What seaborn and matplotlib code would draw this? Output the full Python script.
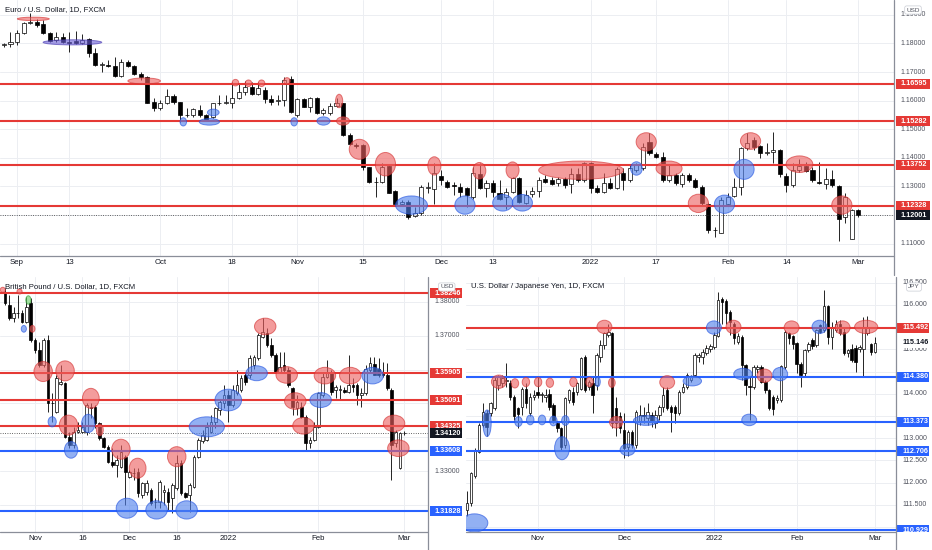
import numpy as np
import pandas as pd
import matplotlib
matplotlib.use("Agg")
import matplotlib.pyplot as plt
from matplotlib.patches import Ellipse, Rectangle
from matplotlib.lines import Line2D
import seaborn as sns

# ---------------- EUR/USD daily (from 2021-08-30) ----------------
eur_open = [
 1.1793, 1.1797, 1.1806, 1.1835, 1.1870, 1.1876, 1.1868, 1.1835, 1.1812, 1.1821,
 1.1806, 1.1810, 1.1800, 1.1814, 1.1765, 1.1725, 1.1725, 1.1721, 1.1686, 1.1735,
 1.1723, 1.1693, 1.1682, 1.1594, 1.1573, 1.1591, 1.1616, 1.1594, 1.1550, 1.1550,
 1.1567, 1.1550, 1.1544, 1.1591, 1.1593, 1.1591, 1.1608, 1.1631, 1.1647, 1.1622,
 1.1637, 1.1607, 1.1600, 1.1602, 1.1675, 1.1550, 1.1605, 1.1579, 1.1610, 1.1556,
 1.1556, 1.1581, 1.1591, 1.1480, 1.1445, 1.1445, 1.1367, 1.1317, 1.1317, 1.1371,
 1.1285, 1.1238, 1.1247, 1.1196, 1.1206, 1.1293, 1.1290, 1.1336, 1.1317, 1.1305,
 1.1299, 1.1293, 1.1264, 1.1342, 1.1293, 1.1311, 1.1278, 1.1264, 1.1282, 1.1328,
 1.1241, 1.1273, 1.1284, 1.1325, 1.1322, 1.1311, 1.1325, 1.1307, 1.1343, 1.1322,
 1.1381, 1.1293, 1.1282, 1.1311, 1.1293, 1.1348, 1.1322, 1.1357, 1.1363, 1.1456,
 1.1412, 1.1404, 1.1322, 1.1340, 1.1307, 1.1340, 1.1322, 1.1299, 1.1238, 1.1147,
 1.1139, 1.1238, 1.1266, 1.1299, 1.1433, 1.1462, 1.1441, 1.1418, 1.1421, 1.1427,
 1.1336, 1.1305, 1.1357, 1.1371, 1.1357, 1.1317, 1.1308, 1.1325, 1.1301, 1.1192,
 1.1118, 1.1217]
eur_high = [
 1.1803, 1.1841, 1.1847, 1.1876, 1.1905, 1.1884, 1.1882, 1.1839, 1.1839, 1.1835,
 1.1841, 1.1844, 1.1832, 1.1818, 1.1783, 1.1736, 1.1742, 1.1754, 1.1744, 1.1742,
 1.1725, 1.1701, 1.1686, 1.1608, 1.1602, 1.1640, 1.1622, 1.1596, 1.1573, 1.1575,
 1.1585, 1.1552, 1.1593, 1.1620, 1.1620, 1.1666, 1.1661, 1.1669, 1.1666, 1.1666,
 1.1647, 1.1620, 1.1620, 1.1684, 1.1686, 1.1608, 1.1608, 1.1614, 1.1614, 1.1573,
 1.1591, 1.1608, 1.1593, 1.1486, 1.1451, 1.1448, 1.1369, 1.1334, 1.1381, 1.1375,
 1.1287, 1.1252, 1.1252, 1.1229, 1.1305, 1.1317, 1.1381, 1.1357, 1.1322, 1.1317,
 1.1311, 1.1299, 1.1369, 1.1381, 1.1322, 1.1322, 1.1322, 1.1293, 1.1334, 1.1334,
 1.1287, 1.1299, 1.1334, 1.1340, 1.1334, 1.1334, 1.1334, 1.1363, 1.1363, 1.1387,
 1.1387, 1.1305, 1.1346, 1.1328, 1.1369, 1.1363, 1.1375, 1.1381, 1.1451, 1.1486,
 1.1421, 1.1421, 1.1375, 1.1346, 1.1346, 1.1346, 1.1328, 1.1305, 1.1243, 1.1159,
 1.1264, 1.1276, 1.1328, 1.1439, 1.1486, 1.1474, 1.1445, 1.1451, 1.1492, 1.1430,
 1.1346, 1.1381, 1.1395, 1.1387, 1.1369, 1.1387, 1.1363, 1.1357, 1.1305, 1.1276,
 1.1223, 1.1220]
eur_low = [
 1.1786, 1.1789, 1.1795, 1.1832, 1.1868, 1.1859, 1.1832, 1.1806, 1.1806, 1.1803,
 1.1771, 1.1797, 1.1797, 1.1754, 1.1722, 1.1701, 1.1719, 1.1684, 1.1684, 1.1719,
 1.1690, 1.1672, 1.1591, 1.1564, 1.1567, 1.1588, 1.1588, 1.1526, 1.1544, 1.1544,
 1.1544, 1.1530, 1.1538, 1.1585, 1.1588, 1.1573, 1.1605, 1.1620, 1.1620, 1.1620,
 1.1593, 1.1585, 1.1585, 1.1581, 1.1558, 1.1544, 1.1577, 1.1561, 1.1553, 1.1550,
 1.1550, 1.1579, 1.1476, 1.1445, 1.1433, 1.1357, 1.1313, 1.1264, 1.1313, 1.1276,
 1.1235, 1.1235, 1.1188, 1.1194, 1.1200, 1.1276, 1.1238, 1.1305, 1.1293, 1.1270,
 1.1264, 1.1229, 1.1258, 1.1290, 1.1264, 1.1264, 1.1252, 1.1223, 1.1276, 1.1241,
 1.1238, 1.1264, 1.1264, 1.1313, 1.1305, 1.1301, 1.1293, 1.1276, 1.1317, 1.1317,
 1.1278, 1.1276, 1.1278, 1.1290, 1.1290, 1.1287, 1.1317, 1.1352, 1.1357, 1.1410,
 1.1398, 1.1317, 1.1317, 1.1305, 1.1299, 1.1317, 1.1293, 1.1235, 1.1136, 1.1122,
 1.1136, 1.1235, 1.1264, 1.1270, 1.1427, 1.1427, 1.1398, 1.1410, 1.1381, 1.1334,
 1.1282, 1.1299, 1.1352, 1.1352, 1.1317, 1.1308, 1.1290, 1.1299, 1.1110, 1.1171,
 1.1115, 1.1192]
eur_close = [
 1.1797, 1.1806, 1.1835, 1.1873, 1.1876, 1.1865, 1.1835, 1.1810, 1.1821, 1.1806,
 1.1800, 1.1800, 1.1812, 1.1765, 1.1725, 1.1727, 1.1723, 1.1686, 1.1736, 1.1721,
 1.1693, 1.1682, 1.1593, 1.1573, 1.1593, 1.1616, 1.1594, 1.1550, 1.1551, 1.1570,
 1.1550, 1.1532, 1.1591, 1.1593, 1.1594, 1.1608, 1.1631, 1.1647, 1.1622, 1.1643,
 1.1605, 1.1596, 1.1602, 1.1672, 1.1561, 1.1605, 1.1579, 1.1608, 1.1556, 1.1567,
 1.1581, 1.1591, 1.1480, 1.1448, 1.1442, 1.1369, 1.1317, 1.1315, 1.1369, 1.1278,
 1.1238, 1.1247, 1.1194, 1.1206, 1.1299, 1.1299, 1.1346, 1.1322, 1.1299, 1.1303,
 1.1282, 1.1270, 1.1346, 1.1293, 1.1313, 1.1282, 1.1258, 1.1282, 1.1328, 1.1247,
 1.1270, 1.1285, 1.1322, 1.1317, 1.1308, 1.1325, 1.1305, 1.1343, 1.1322, 1.1381,
 1.1293, 1.1282, 1.1313, 1.1293, 1.1360, 1.1322, 1.1363, 1.1375, 1.1439, 1.1416,
 1.1404, 1.1322, 1.1340, 1.1311, 1.1340, 1.1322, 1.1299, 1.1241, 1.1147, 1.1149,
 1.1252, 1.1264, 1.1299, 1.1433, 1.1451, 1.1439, 1.1416, 1.1420, 1.1427, 1.1343,
 1.1305, 1.1357, 1.1371, 1.1355, 1.1322, 1.1311, 1.1325, 1.1305, 1.1188, 1.1264,
 1.1217, 1.1200]
eur_start = "2021-08-30"
eur_levels = [1.16595, 1.15282, 1.13752, 1.12328]
eur_level_kind = ["r", "r", "r", "r"]
eur_last = 1.12001
eur_yticks = [1.11, 1.12, 1.13, 1.14, 1.15, 1.16, 1.17, 1.18, 1.19]
eur_xdates = ["2021-09-01", "2021-09-13", "2021-10-01", "2021-10-18", "2021-11-01", "2021-11-15",
              "2021-12-01", "2021-12-13", "2022-01-03", "2022-01-17", "2022-02-01", "2022-02-14", "2022-03-01"]
eur_xlabels = ["Sep", "13", "Oct", "18", "Nov", "15", "Dec", "13", "2022", "17", "Feb", "14", "Mar"]
# touch zones: (kind, bar position, price, width in bars, height in price)
eur_zones = [
 ("r", 4.5, 1.1886, 4.9, 0.0012), ("p", 10.5, 1.1804, 9.0, 0.0018), ("r", 21.5, 1.1669, 5.0, 0.0021),
 ("r", 35.5, 1.1663, 1.0, 0.0023), ("r", 37.5, 1.1661, 1.0, 0.0023), ("r", 39.5, 1.1661, 1.0, 0.0023),
 ("r", 43.4, 1.1669, 1.0, 0.0023), ("r", 51.4, 1.1599, 1.1, 0.0047), ("r", 52.0, 1.1529, 2.0, 0.0029),
 ("r", 54.5, 1.1430, 3.1, 0.0070), ("r", 58.5, 1.1378, 3.1, 0.0082), ("r", 66.0, 1.1372, 2.0, 0.0064),
 ("b", 27.5, 1.1526, 1.0, 0.0029), ("b", 31.5, 1.1526, 3.1, 0.0023), ("b", 32.1, 1.1559, 1.8, 0.0023),
 ("b", 44.5, 1.1526, 1.0, 0.0029), ("b", 49.0, 1.1529, 2.0, 0.0029), ("b", 62.5, 1.1235, 4.9, 0.0064),
 ("b", 70.7, 1.1235, 3.1, 0.0064), ("r", 72.9, 1.1355, 2.0, 0.0058), ("b", 76.5, 1.1243, 3.1, 0.0058),
 ("r", 78.0, 1.1357, 2.0, 0.0058), ("b", 79.5, 1.1243, 3.1, 0.0058), ("r", 88.5, 1.1357, 13.0, 0.0064),
 ("b", 97.0, 1.1363, 1.8, 0.0047), ("r", 98.5, 1.1456, 3.1, 0.0064), ("r", 102.0, 1.1363, 4.0, 0.0052),
 ("r", 106.5, 1.1241, 3.1, 0.0064), ("b", 110.5, 1.1238, 3.1, 0.0064), ("b", 113.5, 1.1360, 3.1, 0.0070),
 ("r", 114.5, 1.1459, 3.1, 0.0058), ("r", 122.0, 1.1378, 4.1, 0.0058), ("r", 128.5, 1.1235, 3.1, 0.0064)]

# ---------------- GBP/USD daily (from 2021-10-21) ----------------
gbp_open = [
 1.3825, 1.3790, 1.3751, 1.3766, 1.3766, 1.3741, 1.3795,
 1.3687, 1.3658, 1.3613, 1.3687, 1.3500, 1.3476, 1.3556, 1.3559, 1.3402, 1.3378,
 1.3417, 1.3417, 1.3417, 1.3490, 1.3490, 1.3441, 1.3397, 1.3373, 1.3328, 1.3318,
 1.3314, 1.3343, 1.3284, 1.3294, 1.3299, 1.3230, 1.3240, 1.3245, 1.3210, 1.3210,
 1.3240, 1.3240, 1.3220, 1.3250, 1.3323, 1.3235, 1.3230, 1.3255, 1.3343, 1.3388,
 1.3392, 1.3417, 1.3446, 1.3481, 1.3500, 1.3525, 1.3495, 1.3530, 1.3540, 1.3584,
 1.3584, 1.3613, 1.3633, 1.3697, 1.3707, 1.3672, 1.3643, 1.3594, 1.3613, 1.3598,
 1.3545, 1.3486, 1.3490, 1.3461, 1.3383, 1.3392, 1.3431, 1.3525, 1.3579, 1.3594,
 1.3540, 1.3540, 1.3540, 1.3535, 1.3554, 1.3554, 1.3525, 1.3530, 1.3598, 1.3615,
 1.3601, 1.3594, 1.3584, 1.3540, 1.3383, 1.3309, 1.3412]
gbp_high = [
 1.3839, 1.3820, 1.3785, 1.3820, 1.3776, 1.3815, 1.3810,
 1.3692, 1.3682, 1.3692, 1.3702, 1.3530, 1.3584, 1.3613, 1.3564, 1.3417, 1.3431,
 1.3446, 1.3446, 1.3500, 1.3500, 1.3495, 1.3446, 1.3402, 1.3378, 1.3368, 1.3348,
 1.3378, 1.3348, 1.3304, 1.3309, 1.3309, 1.3269, 1.3274, 1.3250, 1.3220, 1.3274,
 1.3259, 1.3250, 1.3264, 1.3348, 1.3333, 1.3240, 1.3264, 1.3348, 1.3397, 1.3422,
 1.3446, 1.3466, 1.3490, 1.3510, 1.3554, 1.3540, 1.3554, 1.3598, 1.3584, 1.3594,
 1.3643, 1.3643, 1.3707, 1.3751, 1.3721, 1.3692, 1.3648, 1.3653, 1.3653, 1.3608,
 1.3549, 1.3525, 1.3505, 1.3466, 1.3402, 1.3446, 1.3535, 1.3589, 1.3628, 1.3598,
 1.3554, 1.3554, 1.3549, 1.3643, 1.3574, 1.3559, 1.3545, 1.3613, 1.3638, 1.3638,
 1.3633, 1.3623, 1.3618, 1.3545, 1.3422, 1.3417, 1.3420]
gbp_low = [
 1.3790, 1.3746, 1.3741, 1.3751, 1.3736, 1.3738, 1.3682,
 1.3648, 1.3608, 1.3608, 1.3476, 1.3446, 1.3471, 1.3554, 1.3397, 1.3368, 1.3368,
 1.3412, 1.3412, 1.3407, 1.3456, 1.3427, 1.3392, 1.3368, 1.3323, 1.3314, 1.3284,
 1.3309, 1.3200, 1.3279, 1.3274, 1.3225, 1.3220, 1.3230, 1.3200, 1.3191, 1.3191,
 1.3200, 1.3186, 1.3176, 1.3245, 1.3230, 1.3220, 1.3181, 1.3250, 1.3338, 1.3383,
 1.3388, 1.3412, 1.3427, 1.3466, 1.3486, 1.3446, 1.3490, 1.3525, 1.3535, 1.3554,
 1.3574, 1.3603, 1.3628, 1.3692, 1.3667, 1.3638, 1.3589, 1.3589, 1.3594, 1.3549,
 1.3466, 1.3466, 1.3456, 1.3363, 1.3368, 1.3388, 1.3427, 1.3520, 1.3574, 1.3525,
 1.3515, 1.3510, 1.3530, 1.3530, 1.3535, 1.3495, 1.3490, 1.3525, 1.3594, 1.3584,
 1.3579, 1.3579, 1.3540, 1.3274, 1.3373, 1.3307, 1.3408]
gbp_close = [
 1.3795, 1.3751, 1.3766, 1.3768, 1.3741, 1.3785, 1.3687,
 1.3658, 1.3613, 1.3687, 1.3500, 1.3502, 1.3574, 1.3562, 1.3402, 1.3378, 1.3417,
 1.3422, 1.3431, 1.3495, 1.3486, 1.3441, 1.3397, 1.3373, 1.3328, 1.3318, 1.3333,
 1.3358, 1.3299, 1.3299, 1.3296, 1.3235, 1.3264, 1.3264, 1.3205, 1.3208, 1.3269,
 1.3245, 1.3210, 1.3259, 1.3323, 1.3235, 1.3225, 1.3259, 1.3343, 1.3392, 1.3407,
 1.3431, 1.3446, 1.3486, 1.3505, 1.3525, 1.3495, 1.3540, 1.3554, 1.3574, 1.3564,
 1.3633, 1.3638, 1.3702, 1.3712, 1.3672, 1.3643, 1.3594, 1.3608, 1.3598, 1.3554,
 1.3490, 1.3505, 1.3461, 1.3383, 1.3392, 1.3431, 1.3530, 1.3579, 1.3594, 1.3535,
 1.3549, 1.3542, 1.3535, 1.3554, 1.3549, 1.3525, 1.3530, 1.3603, 1.3618, 1.3584,
 1.3584, 1.3584, 1.3545, 1.3378, 1.3417, 1.3412, 1.3414]
gbp_start = "2021-10-21"
gbp_levels = [1.38246, 1.35905, 1.35091, 1.34325, 1.33608, 1.31828]
gbp_level_kind = ["r", "r", "r", "r", "b", "b"]
gbp_last = 1.34120
gbp_yticks = [1.32, 1.33, 1.34, 1.35, 1.36, 1.37, 1.38]
gbp_xdates = ["2021-11-01", "2021-11-16", "2021-12-01", "2021-12-16", "2022-01-03", "2022-02-01", "2022-03-01"]
gbp_xlabels = ["Nov", "16", "Dec", "16", "2022", "Feb", "Mar"]
gbp_zones = [
 ("r", -0.5, 1.3835, 1.2, 0.0015), ("r", 3.4, 1.3830, 1.2, 0.0015), ("g", 5.45, 1.3805, 1.2, 0.0025),
 ("b", 4.4, 1.3720, 1.2, 0.0020), ("r", 6.4, 1.3720, 1.2, 0.0020), ("r", 8.9, 1.3594, 4.3, 0.0059),
 ("r", 14.0, 1.3596, 4.3, 0.0059), ("b", 11.0, 1.3446, 1.9, 0.0030), ("r", 14.8, 1.3436, 4.3, 0.0059),
 ("b", 15.4, 1.3363, 3.1, 0.0049), ("r", 20.0, 1.3515, 3.9, 0.0059), ("b", 19.4, 1.3441, 3.1, 0.0054),
 ("r", 22.1, 1.3422, 1.6, 0.0034), ("r", 27.0, 1.3365, 4.3, 0.0059), ("r", 30.9, 1.3309, 3.9, 0.0059),
 ("b", 28.4, 1.3191, 5.0, 0.0059), ("b", 35.3, 1.3186, 5.0, 0.0054), ("r", 40.0, 1.3343, 4.3, 0.0059),
 ("b", 42.3, 1.3186, 5.0, 0.0054), ("b", 47.0, 1.3431, 8.2, 0.0059), ("b", 52.0, 1.3510, 6.2, 0.0064),
 ("b", 58.6, 1.3589, 5.0, 0.0044), ("r", 60.6, 1.3727, 5.0, 0.0049), ("r", 65.6, 1.3584, 5.0, 0.0049),
 ("r", 67.6, 1.3507, 5.0, 0.0049), ("r", 69.5, 1.3434, 5.0, 0.0049), ("b", 73.5, 1.3510, 5.0, 0.0044),
 ("r", 74.5, 1.3582, 5.0, 0.0049), ("r", 80.4, 1.3582, 5.0, 0.0049), ("b", 85.6, 1.3582, 5.0, 0.0049),
 ("r", 90.6, 1.3441, 5.0, 0.0049), ("r", 91.6, 1.3368, 5.0, 0.0049)]

# ---------------- USD/JPY daily (from 2021-10-06) ----------------
jpy_open = [
 111.39, 111.54, 112.14, 112.70, 113.30, 113.56, 113.56, 113.67, 114.20, 114.24,
 114.30, 114.25, 113.94, 113.67, 113.71, 114.12, 113.56, 113.94,
 114.05, 113.97, 113.94, 114.00, 113.75, 113.34, 113.23, 112.85, 113.86, 114.05,
 114.05, 114.12, 114.83, 114.16, 114.25, 114.20, 114.83, 115.10, 115.32, 115.36,
 113.67, 113.49, 113.19, 112.81, 113.15, 112.85, 113.38, 113.53, 113.45, 113.53,
 113.34, 113.53, 113.71, 114.09, 113.71, 113.71, 113.56, 114.05, 114.16, 114.31,
 114.42, 114.83, 114.83, 114.92, 115.00, 115.06, 115.30, 116.13, 116.09, 115.84,
 115.58, 115.17, 115.28, 114.65, 114.18, 114.16, 114.57, 114.61, 114.27, 114.09,
 113.94, 113.86, 113.86, 114.61, 115.36, 115.30, 115.15, 114.67, 114.46, 114.98,
 115.21, 115.10, 115.55, 115.43, 115.97, 115.28, 115.43, 115.58, 115.40, 114.92,
 115.02, 115.04, 115.00, 115.00, 115.36, 115.13, 114.95]
jpy_high = [
 111.81, 112.25, 112.78, 113.34, 113.79, 113.64, 113.82, 114.39, 114.42, 114.42,
 114.70, 114.31, 113.97, 113.71, 114.16, 114.24, 114.01, 114.09,
 114.39, 114.05, 114.12, 114.12, 113.79, 113.38, 113.26, 113.94, 114.12, 114.16,
 114.27, 114.83, 114.87, 114.31, 114.39, 114.91, 115.21, 115.40, 115.58, 115.40,
 113.94, 113.60, 113.56, 113.19, 113.19, 113.64, 113.75, 113.71, 113.79, 113.60,
 113.64, 113.75, 114.16, 114.16, 113.75, 113.75, 114.09, 114.24, 114.46, 114.42,
 114.91, 114.91, 115.02, 115.10, 115.13, 115.40, 116.29, 116.18, 116.14, 115.88,
 115.62, 115.36, 115.32, 114.68, 114.39, 114.65, 114.65, 114.65, 114.31, 114.12,
 113.97, 113.97, 114.65, 115.43, 115.40, 115.32, 115.17, 114.72, 115.02, 115.17,
 115.25, 115.47, 115.58, 116.33, 115.99, 115.62, 115.66, 115.66, 115.51, 115.02,
 115.13, 115.10, 115.10, 115.73, 115.75, 115.15, 115.28]
jpy_low = [
 111.24, 111.47, 112.10, 112.67, 113.26, 113.04, 113.49, 113.64, 114.09, 114.16,
 114.16, 113.86, 113.41, 113.23, 113.52, 113.67, 113.49, 113.86,
 113.90, 113.82, 113.82, 113.64, 113.34, 113.15, 112.74, 112.78, 113.79, 113.75,
 113.97, 114.09, 114.05, 114.09, 113.56, 114.09, 114.72, 115.00, 115.28, 113.23,
 113.04, 113.11, 112.55, 112.59, 112.78, 112.78, 113.30, 113.34, 113.30, 113.26,
 113.23, 113.41, 113.60, 113.64, 113.15, 113.34, 113.52, 114.01, 114.12, 114.27,
 114.39, 114.72, 114.68, 114.87, 114.95, 115.02, 115.28, 115.58, 115.58, 115.32,
 115.13, 115.13, 114.31, 113.97, 113.41, 114.12, 114.46, 114.24, 114.01, 113.64,
 113.53, 113.79, 113.82, 114.57, 115.13, 115.02, 114.46, 114.16, 114.39, 114.95,
 115.02, 115.06, 115.36, 115.40, 115.13, 115.02, 115.40, 115.32, 114.87, 114.83,
 114.72, 114.50, 114.95, 114.40, 115.32, 114.87, 114.91]
jpy_close = [
 111.54, 112.22, 112.74, 113.30, 113.60, 113.26, 113.79, 114.31, 114.39, 114.35,
 114.32, 113.94, 113.49, 113.55, 114.12, 113.79, 113.94, 113.97,
 113.97, 113.99, 113.97, 113.71, 113.41, 113.23, 112.81, 113.90, 114.09, 113.82,
 114.24, 114.80, 114.09, 114.27, 113.97, 114.87, 115.10, 115.36, 115.40, 113.34,
 113.34, 113.23, 112.78, 113.15, 112.85, 113.60, 113.53, 113.51, 113.60, 113.38,
 113.53, 113.71, 113.97, 113.67, 113.60, 113.56, 114.05, 114.16, 114.42, 114.39,
 114.87, 114.87, 114.95, 115.04, 115.07, 115.32, 116.12, 116.07, 115.82, 115.62,
 115.25, 115.30, 114.65, 114.20, 114.16, 114.61, 114.61, 114.27, 114.09, 113.67,
 113.65, 113.90, 114.62, 115.40, 115.25, 115.13, 114.67, 114.42, 114.98, 115.13,
 115.07, 115.43, 115.40, 115.97, 115.28, 115.51, 115.58, 115.36, 114.92, 114.98,
 114.76, 114.72, 115.06, 115.51, 115.51, 114.95, 115.15]
jpy_start = "2021-10-06"
jpy_levels = [115.492, 114.380, 113.373, 112.706, 110.929]
jpy_level_kind = ["r", "b", "b", "b", "b"]
jpy_last = 115.146
jpy_yticks = [111.0, 111.5, 112.0, 112.5, 113.0, 113.5, 114.0, 114.5, 115.0, 115.5, 116.0, 116.5]
jpy_xdates = ["2021-11-01", "2021-12-01", "2022-01-03", "2022-02-01", "2022-03-01"]
jpy_xlabels = ["Nov", "Dec", "2022", "Feb", "Mar"]
jpy_zones = [
 ("b", 1.9, 111.094, 6.8, 0.41), ("b", 5.1, 113.338, 2.1, 0.60), ("r", 8.1, 114.273, 3.8, 0.30),
 ("r", 12.2, 114.236, 1.9, 0.21), ("r", 15.0, 114.265, 1.9, 0.21), ("r", 18.1, 114.265, 1.9, 0.21),
 ("r", 21.1, 114.250, 1.9, 0.21), ("r", 27.1, 114.265, 1.9, 0.21), ("r", 31.2, 114.265, 1.9, 0.21),
 ("b", 33.3, 114.273, 1.3, 0.22), ("r", 36.9, 114.250, 1.7, 0.21), ("r", 35.0, 115.507, 3.8, 0.30),
 ("b", 13.1, 113.375, 1.9, 0.22), ("b", 16.1, 113.413, 1.9, 0.22), ("b", 19.1, 113.413, 1.9, 0.22),
 ("b", 22.0, 113.390, 1.9, 0.22), ("b", 25.05, 113.400, 1.9, 0.22), ("b", 24.2, 112.777, 3.8, 0.52),
 ("r", 38.0, 113.360, 3.4, 0.26), ("b", 40.9, 112.740, 3.8, 0.26), ("b", 45.6, 113.400, 6.4, 0.22),
 ("r", 51.0, 114.260, 3.8, 0.30), ("b", 57.4, 114.288, 4.7, 0.22), ("b", 62.9, 115.492, 3.8, 0.30),
 ("r", 67.9, 115.507, 3.8, 0.30), ("b", 70.3, 114.445, 4.7, 0.26), ("b", 71.9, 113.413, 3.8, 0.26),
 ("r", 75.8, 114.408, 3.8, 0.30), ("b", 79.8, 114.445, 3.8, 0.30), ("r", 82.7, 115.492, 3.8, 0.30),
 ("b", 89.8, 115.507, 3.8, 0.30), ("r", 95.7, 115.492, 3.8, 0.30), ("r", 101.7, 115.507, 5.9, 0.30)]

# ---------------- styling ----------------
sns.set_theme(style="white")
plt.rcParams["font.family"] = ["Liberation Sans", "DejaVu Sans"]

LINE_COL = {"r": "#e53935", "b": "#2962ff"}
ZONE_COL = {"r": ("#ec5f5f", "#d32f2f"), "b": ("#4f80ec", "#2050e0"),
            "p": ("#6b5fd6", "#4536b0"), "g": ("#66cc66", "#2e9e2e")}
TXT = "#131722"
GRID = "#eceef2"
BORDER = "#8a8e99"

W, H = 932.0, 550.0
fig = plt.figure(figsize=(9.32, 5.5), dpi=100)


def add_ax(x0, y0, x1, y1, **kw):
    return fig.add_axes([x0 / W, 1 - y1 / H, (x1 - x0) / W, (y1 - y0) / H], **kw)


def fig_line(x0, y0, x1, y1, color=BORDER, lw=0.9):
    fig.add_artist(Line2D([x0 / W, x1 / W], [1 - y0 / H, 1 - y1 / H], color=color, lw=lw,
                          transform=fig.transFigure))


def draw_panel(box, pbox, title, start, o, h, l, c, xlim, ylim, yticks, fmt, levels, kinds,
               last, last_style, dotted, zones, xdates, xlabels, ccy, ccy_xy, text_x, box_x):
    n = min(len(o), len(h), len(l), len(c))
    o, h, l, c = (np.asarray(v[:n], float) for v in (o, h, l, c))
    h = np.maximum(h, np.maximum(o, c))
    l = np.minimum(l, np.minimum(o, c))
    dates = pd.bdate_range(start, periods=n)
    x = np.arange(n)
    ax = add_ax(*box)
    axp = add_ax(*pbox, sharey=ax)
    ax.set_xlim(*xlim)
    ax.set_ylim(*ylim)
    px_h = box[3] - box[1]
    unit = (ylim[1] - ylim[0]) / px_h  # price per pixel

    # grid via ticks
    tick_pos = [dates.get_loc(pd.Timestamp(d)) for d in xdates]
    ax.set_xticks(tick_pos)
    ax.set_xticklabels(xlabels)
    ax.set_yticks(yticks)
    ax.tick_params(axis="x", length=0, pad=2.5, labelsize=5.6, labelcolor=TXT)
    ax.tick_params(axis="y", left=False, right=False, labelleft=False, labelright=False)
    ax.grid(True, color=GRID, lw=0.7)
    ax.set_axisbelow(True)
    for s in ax.spines.values():
        s.set_visible(False)

    # candles
    up = c >= o
    ax.vlines(x, l, h, color="#000000", lw=0.6, zorder=2)
    body_lo = np.minimum(o, c)
    body_h = np.maximum(np.abs(c - o), unit * 0.4)
    ax.bar(x, body_h, 0.62, bottom=body_lo, color=np.where(up, "white", "black"),
           edgecolor="black", linewidth=0.5, zorder=3)

    # levels
    for v, k in zip(levels, kinds):
        ax.axhline(v, color=LINE_COL[k], lw=1.5, zorder=4)
    if dotted:
        ax.axhline(last, color="#333333", lw=0.6, ls=(0, (1, 1.8)), zorder=4)

    # zones
    for k, xc, yc, wd, ht in zones:
        fc, ec = ZONE_COL[k]
        ax.add_patch(Ellipse((xc, yc), wd, ht, facecolor=fc, edgecolor=ec, lw=0.7,
                             alpha=0.62, zorder=5))

    ax.text(5 / (box[2] - box[0]), 1 - 10 / px_h, title, transform=ax.transAxes,
            fontsize=5.6, color=TXT, ha="left", va="center", zorder=7)

    # price scale
    axp.axis("off")
    axp.set_xlim(0, 1)
    marks = list(levels) + [last]
    for t in yticks:
        if min(abs(t - m) for m in marks) / unit < 6.0:
            continue  # hidden behind a price label, as on the source chart
        axp.text(text_x, t, fmt.format(t), fontsize=5.0, color="#50535e", ha="left",
                 va="center", clip_on=True, zorder=2)
    hh = 10 * unit
    for v, k in zip(levels, kinds):
        axp.add_patch(Rectangle((box_x[0], v - hh / 2), box_x[1] - box_x[0], hh,
                                facecolor=LINE_COL[k], edgecolor="none", zorder=3))
        axp.text(text_x, v, fmt.format(v), fontsize=5.2, fontweight="bold", color="white",
                 ha="left", va="center", clip_on=True, zorder=4)
    fc_last, tc_last = last_style
    axp.add_patch(Rectangle((box_x[0], last - hh / 2), box_x[1] - box_x[0], hh,
                            facecolor=fc_last, edgecolor="none", zorder=3))
    axp.text(text_x, last, fmt.format(last), fontsize=5.2, fontweight="bold", color=tc_last,
             ha="left", va="center", clip_on=True, zorder=4)
    axp.text(ccy_xy[0], ccy_xy[1], ccy, transform=axp.transAxes, fontsize=4.6, color="#50535e",
             ha="center", va="center", zorder=6,
             bbox=dict(boxstyle="round,pad=0.25,rounding_size=0.3", fc="white", ec="#c9ccd4", lw=0.5))
    return ax


# top: EUR/USD
draw_panel((0, 0, 894, 256), (894, 0, 932, 256), "Euro / U.S. Dollar, 1D, FXCM", eur_start,
           eur_open, eur_high, eur_low, eur_close, (-0.61, 136.5), (1.1057, 1.1952),
           eur_yticks, "{:.5f}", eur_levels, eur_level_kind, eur_last, ("#131722", "white"), True,
           eur_zones, eur_xdates, eur_xlabels, "USD", (0.5, 1 - 10 / 256), 0.18, (0.05, 0.95))

# bottom left: GBP/USD
draw_panel((0, 277, 428, 532), (428, 277, 462, 532), "British Pound / U.S. Dollar, 1D, FXCM", gbp_start,
           gbp_open, gbp_high, gbp_low, gbp_close, (-1.15, 98.5), (1.31209, 1.38728),
           gbp_yticks, "{:.5f}", gbp_levels, gbp_level_kind, gbp_last, ("#131722", "white"), True,
           gbp_zones, gbp_xdates, gbp_xlabels, "USD", (0.55, 1 - 10 / 255), 0.2, (0.06, 1.0))

# bottom right: USD/JPY
draw_panel((466, 277, 896, 532), (896, 277, 932, 532), "U.S. Dollar / Japanese Yen, 1D, FXCM", jpy_start,
           jpy_open, jpy_high, jpy_low, jpy_close, (-0.27, 109.3), (110.89, 116.63),
           jpy_yticks, "{:.3f}", jpy_levels, jpy_level_kind, jpy_last, ("white", "#131722"), False,
           jpy_zones, jpy_xdates, jpy_xlabels, "JPY", (0.5, 1 - 10 / 255), 0.19, (0.0, 0.92))

# pane borders
fig_line(894, 0, 894, 275)
fig_line(0, 256, 894, 256)
fig_line(428, 277, 428, 550)
fig_line(0, 532, 428, 532)
fig_line(896, 277, 896, 550)
fig_line(466, 532, 896, 532)

fig.savefig("out.png", dpi=100)
